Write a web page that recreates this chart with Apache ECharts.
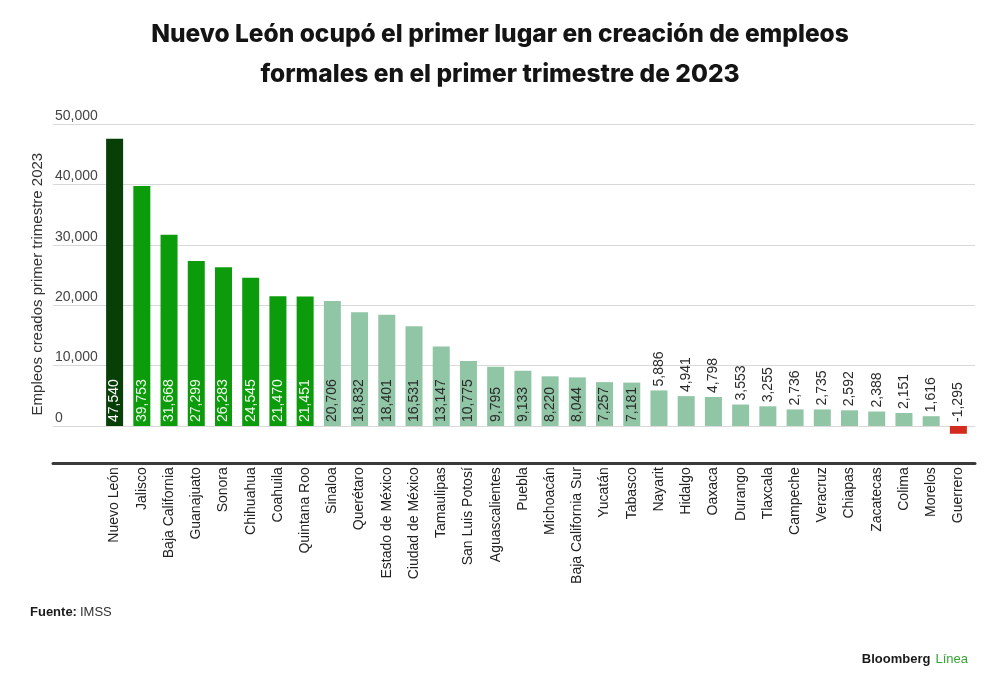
<!DOCTYPE html>
<html>
<head>
<meta charset="utf-8">
<script src="https://cdn.jsdelivr.net/npm/echarts@6/dist/echarts.min.js"></script>
<style>html,body{margin:0;padding:0;background:#fff}#c{width:1000px;height:689px}</style>
</head>
<body>
<div id="c"></div>
<script>
const categories = ['Nuevo León','Jalisco','Baja California','Guanajuato','Sonora','Chihuahua','Coahuila','Quintana Roo','Sinaloa','Querétaro','Estado de México','Ciudad de México','Tamaulipas','San Luis Potosí','Aguascalientes','Puebla','Michoacán','Baja California Sur','Yucatán','Tabasco','Nayarit','Hidalgo','Oaxaca','Durango','Tlaxcala','Campeche','Veracruz','Chiapas','Zacatecas','Colima','Morelos','Guerrero'];
const values = [47540,39753,31668,27299,26283,24545,21470,21451,20706,18832,18401,16531,13147,10775,9795,9133,8220,8044,7257,7181,5886,4941,4798,3553,3255,2736,2735,2592,2388,2151,1616,-1295];
const yTicks = [0,10000,20000,30000,40000,50000];

const FONT = 'Liberation Sans, Arial, sans-serif';
const C_DARK = '#073f07', C_GREEN = '#0b9b0b', C_LIGHT = '#90c5a5', C_RED = '#d42b1f';

function fmt(v){ return v.toLocaleString('en-US'); }

const barData = values.map((v, i) => {
  let color = C_LIGHT, txt = '#2a2a2a';
  if (i === 0) { color = C_DARK; txt = '#ffffff'; }
  else if (i < 8) { color = C_GREEN; txt = '#f2fbef'; }
  else if (v < 0) { color = C_RED; }
  const inside = v >= 7000;
  return {
    value: v,
    itemStyle: { color: color },
    label: {
      show: true,
      position: inside ? 'insideBottom' : 'top',
      distance: 4,
      rotate: 90,
      align: 'left',
      verticalAlign: 'middle',
      color: inside ? txt : '#2a2a2a',
      fontSize: 14,
      fontFamily: FONT,
      formatter: () => fmt(v)
    }
  };
});

const chart = echarts.init(document.getElementById('c'));
chart.setOption({
  animation: false,
  backgroundColor: '#ffffff',
  title: [
    {
      text: 'Nuevo León ocupó el primer lugar en creación de empleos\nformales en el primer trimestre de 2023',
      left: 'center', top: 15, padding: 0,
      textStyle: { fontFamily: 'Inter, Roboto, sans-serif', fontWeight: 800, fontSize: 24.5, lineHeight: 40, color: '#141414', align: 'center' }
    },
    {
      text: '{b|Fuente:}{r|IMSS}',
      left: 30, top: 606, padding: 0,
      textStyle: { rich: {
        b: { fontFamily: FONT, fontWeight: 'bold', fontSize: 13, color: '#1a1a1a', padding: [0, 3, 0, 0] },
        r: { fontFamily: FONT, fontWeight: 'normal', fontSize: 13, color: '#333' }
      } }
    },
    {
      text: '{b|Bloomberg} {g|Línea}',
      right: 32, top: 650, padding: 0,
      textStyle: { rich: {
        b: { fontFamily: FONT, fontWeight: 'bold', fontSize: 13, color: '#1a1a1a' },
        g: { fontFamily: FONT, fontWeight: 'normal', fontSize: 13, color: '#36a336' }
      } }
    }
  ],
  grid: [
    { left: 53, right: 25, top: 124, bottom: 263 },
    { left: 101, right: 28, top: 124, bottom: 226.8 }
  ],
  xAxis: [
    {
      gridIndex: 0, type: 'category', data: [''],
      offset: 37,
      axisLine: { show: true, onZero: false, lineStyle: { color: '#3a3a3a', width: 3 } },
      axisTick: { show: false }, axisLabel: { show: false }, splitLine: { show: false }
    },
    {
      gridIndex: 1, type: 'category', data: categories,
      axisLine: { show: false, onZero: false },
      axisTick: { show: false },
      axisLabel: { rotate: 90, margin: 5, interval: 0, fontSize: 14, fontFamily: FONT, color: '#222' }
    }
  ],
  yAxis: [
    {
      gridIndex: 0, type: 'value', min: 0, max: 50000, interval: 10000,
      axisLine: { show: false }, axisTick: { show: false },
      splitLine: { show: true, lineStyle: { color: '#d9d9d9', width: 1 } },
      axisLabel: {
        inside: true, margin: 2, verticalAlign: 'bottom', padding: [0, 0, 1, 0],
        fontSize: 14, fontFamily: FONT, color: '#444',
        formatter: v => yTicks.includes(v) ? fmt(v) : ''
      }
    },
    {
      gridIndex: 1, type: 'value', min: -6000, max: 50000,
      axisLine: { show: false }, axisTick: { show: false }, axisLabel: { show: false }, splitLine: { show: false },
      name: 'Empleos creados primer trimestre 2023',
      nameLocation: 'middle', nameGap: 56,
      nameTextStyle: { fontSize: 15, fontFamily: FONT, color: '#333', padding: [0, 0, 0, 18] }
    }
  ],
  series: [
    {
      type: 'bar', xAxisIndex: 1, yAxisIndex: 1,
      data: barData, barWidth: 17
    }
  ]
});
</script>
</body>
</html>
